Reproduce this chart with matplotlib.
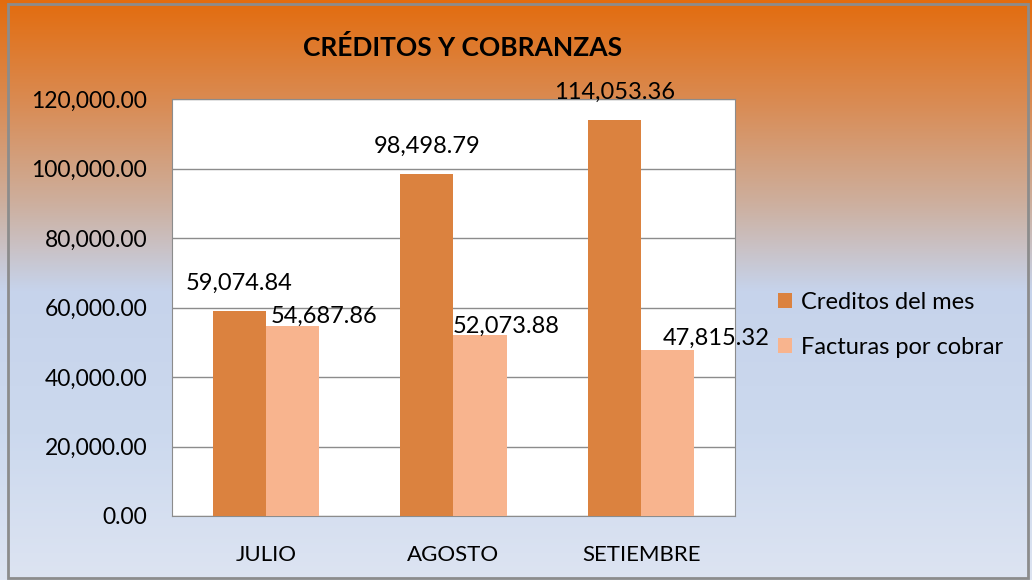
import numpy as np
import matplotlib
matplotlib.use("Agg")
import matplotlib.pyplot as plt
from matplotlib.colors import LinearSegmentedColormap
from matplotlib.patches import Rectangle
from matplotlib.ticker import FuncFormatter

months = ["JULIO", "AGOSTO", "SETIEMBRE"]
creditos = [59074.84, 98498.79, 114053.36]
facturas = [54687.86, 52073.88, 47815.32]
series_names = ["Creditos del mes", "Facturas por cobrar"]
yticks = [0, 20000, 40000, 60000, 80000, 100000, 120000]

plt.rcParams['font.family'] = ['Lato', 'DejaVu Sans']
col_cred = "#DB823F"
col_fact = "#F8B48E"

fig = plt.figure(figsize=(10.32, 5.8), dpi=100)

# gradient background
bg = fig.add_axes([0, 0, 1, 1], zorder=-10)
cmap = LinearSegmentedColormap.from_list("bg", [
    (0.0, "#E36C0E"), (0.18, "#D98C55"), (0.35, "#CDAF9E"),
    (0.5, "#C6D3EB"), (0.75, "#CCD9EE"), (1.0, "#DDE4F2")])
grad = np.linspace(0, 1, 256).reshape(-1, 1)
bg.imshow(grad, aspect="auto", cmap=cmap, extent=[0, 1, 0, 1], origin="upper")
bg.axis("off")
fig.patches.append(Rectangle((8 / 1032, 2 / 580), 1020 / 1032, 574 / 580,
                             transform=fig.transFigure, fill=False,
                             edgecolor="#8C8C8C", linewidth=2))

ax = fig.add_axes([172 / 1032, 64 / 580, 563 / 1032, 417 / 580])
ax.set_facecolor("white")
x = np.arange(len(months))
w = 0.283
b1 = ax.bar(x - w / 2, creditos, w, color=col_cred, label=series_names[0], zorder=3)
b2 = ax.bar(x + w / 2, facturas, w, color=col_fact, label=series_names[1], zorder=3)

ax.set_xlim(-0.5, 2.5)
ax.set_ylim(0, 120000)
ax.set_yticks(yticks)
ax.yaxis.set_major_formatter(FuncFormatter(lambda v, p: f"{v:,.2f}"))
ax.set_xticks(x)
ax.set_xticklabels(months)
ax.tick_params(axis="y", length=0, pad=18, labelsize=16.5)
ax.tick_params(axis="x", length=0, pad=21, labelsize=16)
ax.grid(axis="y", color="#8C8C8C", linewidth=1, zorder=0)
for s in ax.spines.values():
    s.set_color("#8C8C8C")

for rect, v in zip(b1, creditos):
    ax.annotate(f"{v:,.2f}", (rect.get_x() + rect.get_width() / 2, v),
                xytext=(0, 20), textcoords="offset points",
                ha="center", va="center", fontsize=17, zorder=5)
# excel nudged these labels sideways to avoid overlapping
offs = [(23, 7), (19, 6), (35, 8.5)]
for rect, v, (dx, dy) in zip(b2, facturas, offs):
    ax.annotate(f"{v:,.2f}", (rect.get_x() + rect.get_width() / 2, v),
                xytext=(dx, dy), textcoords="offset points",
                ha="center", va="center", fontsize=17, zorder=5,
                annotation_clip=False)

fig.text(463 / 1032, 1 - 48 / 580, "CRÉDITOS Y COBRANZAS", ha="center",
         va="center", fontsize=19, fontweight="bold")

fig.legend(handles=[b1, b2], labels=series_names, loc="center left",
           bbox_to_anchor=(761 / 1032, 1 - 325 / 580), frameon=False,
           fontsize=17, handlelength=0.6, handleheight=0.6,
           handletextpad=0.4, labelspacing=1.0, borderpad=0.2)

fig.savefig("out.png", dpi=100)
